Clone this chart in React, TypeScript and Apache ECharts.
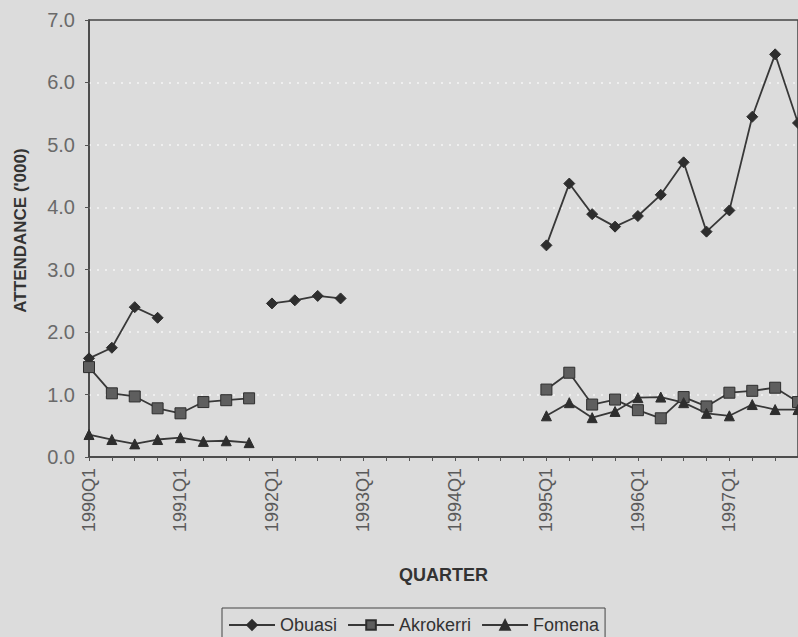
import React, { useEffect, useRef } from "react";
import * as echarts from "echarts";

// Quarterly attendance (thousands) at three sites, 1990–1997
const years = ["1990", "1991", "1992", "1993", "1994", "1995", "1996", "1997"];
const quarters = ["Q1", "Q2", "Q3", "Q4"];
const categories: string[] = [];
years.forEach((y) => quarters.forEach((q) => categories.push(y + q)));

const obuasi: (number | null)[] = [
  1.58, 1.75, 2.4, 2.23,
  null, null, null, null,
  2.46, 2.51, 2.58, 2.54,
  null, null, null, null,
  null, null, null, null,
  3.39, 4.38, 3.89, 3.69,
  3.86, 4.2, 4.72, 3.61,
  3.95, 5.45, 6.45, 5.35,
];

const akrokerri: (number | null)[] = [
  1.44, 1.02, 0.97, 0.78,
  0.7, 0.88, 0.91, 0.94,
  null, null, null, null,
  null, null, null, null,
  null, null, null, null,
  1.08, 1.35, 0.84, 0.92,
  0.75, 0.62, 0.96, 0.81,
  1.03, 1.06, 1.11, 0.88,
];

const fomena: (number | null)[] = [
  0.36, 0.28, 0.21, 0.28,
  0.31, 0.25, 0.26, 0.23,
  null, null, null, null,
  null, null, null, null,
  null, null, null, null,
  0.66, 0.87, 0.63, 0.73,
  0.95, 0.96, 0.87, 0.7,
  0.66, 0.84, 0.76, 0.76,
];

const FONT = "'Liberation Sans', Arial, sans-serif";
const LINE = "#383838";

export default function App() {
  const ref = useRef<HTMLDivElement>(null);

  useEffect(() => {
    if (!ref.current) return;
    const chart = echarts.init(ref.current, undefined, { renderer: "svg" });

    const mkSeries = (
      name: string,
      data: (number | null)[],
      symbol: string,
      size: number,
      fill: string
    ) => ({
      name,
      type: "line",
      data,
      symbol,
      symbolSize: size,
      showSymbol: true,
      connectNulls: false,
      lineStyle: { color: LINE, width: 1.8 },
      itemStyle: { color: fill, borderColor: "#2e2e2e", borderWidth: 1 },
      emphasis: { disabled: true },
    });

    chart.setOption({
      animation: false,
      backgroundColor: "#dcdcdc",
      textStyle: { fontFamily: FONT },
      grid: {
        left: 89,
        top: 20,
        width: 712,
        height: 437,
        show: true,
        borderColor: "#444",
        borderWidth: 1.5,
        backgroundColor: "transparent",
      },
      legend: {
        left: 222,
        top: 608,
        padding: [8, 6, 8, 6],
        itemWidth: 46,
        itemHeight: 12,
        itemGap: 10,
        borderColor: "#444",
        borderWidth: 1,
        textStyle: { fontSize: 18, color: "#333", fontFamily: FONT },
        data: ["Obuasi", "Akrokerri", "Fomena"],
      },
      xAxis: {
        type: "category",
        data: categories,
        boundaryGap: false,
        name: "QUARTER",
        nameLocation: "middle",
        nameGap: 109,
        nameTextStyle: {
          fontSize: 18,
          fontWeight: "bold",
          color: "#333",
          fontFamily: FONT,
        },
        axisLine: { lineStyle: { color: "#444", width: 1.5 } },
        axisTick: {
          show: true,
          interval: 0,
          length: 4,
          lineStyle: { color: "#555" },
        },
        axisLabel: {
          interval: 3,
          rotate: 90,
          margin: 11,
          fontSize: 18,
          color: "#5a5a5a",
          fontFamily: FONT,
        },
        splitLine: { show: false },
      },
      yAxis: {
        type: "value",
        min: 0,
        max: 7,
        interval: 1,
        name: "ATTENDANCE ('000)",
        nameLocation: "middle",
        nameGap: 60,
        nameTextStyle: {
          fontSize: 17,
          fontWeight: "bold",
          color: "#333",
          fontFamily: FONT,
          padding: [0, 0, 0, 16],
        },
        axisLine: { show: true, lineStyle: { color: "#444", width: 1.5 } },
        axisTick: { show: true, length: 4, lineStyle: { color: "#555" } },
        axisLabel: {
          margin: 14,
          fontSize: 20,
          color: "#6a6a6a",
          fontFamily: FONT,
          formatter: (v: number) => v.toFixed(1),
        },
        splitLine: {
          show: true,
          showMinLine: false,
          showMaxLine: false,
          lineStyle: { color: "rgba(255,255,255,0.55)", type: [2, 6], width: 2 },
        },
      },
      series: [
        mkSeries("Obuasi", obuasi, "diamond", 11, "#2e2e2e"),
        mkSeries("Akrokerri", akrokerri, "rect", 11, "#5e5e5e"),
        mkSeries("Fomena", fomena, "triangle", 10, "#2e2e2e"),
      ],
    });

    return () => chart.dispose();
  }, []);

  return (
    <div
      ref={ref}
      style={{ position: "absolute", left: 0, top: 0, width: 798, height: 637 }}
    />
  );
}
